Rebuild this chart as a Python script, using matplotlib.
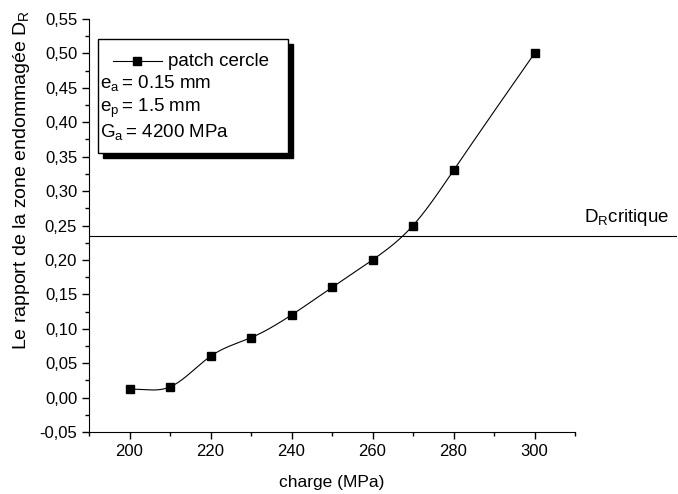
import numpy as np
import matplotlib
matplotlib.use("Agg")
import matplotlib.pyplot as plt
from matplotlib.patches import Rectangle
from matplotlib.lines import Line2D
from matplotlib.ticker import MultipleLocator, FuncFormatter

plt.rcParams['font.family'] = ['Liberation Sans', 'DejaVu Sans']
plt.rcParams['mathtext.fontset'] = 'custom'
plt.rcParams['mathtext.rm'] = 'Liberation Sans'

# donnees
charge = [200, 210, 220, 230, 240, 250, 260, 270, 280, 300]
rapport = [0.012, 0.0155, 0.060, 0.087, 0.120, 0.160, 0.200, 0.250, 0.330, 0.500]
dr_critique = 0.235


def lissage_spline(x, y, xs):
    # spline cubique : pente imposee a gauche (corde), naturelle a droite
    x = np.asarray(x, float)
    y = np.asarray(y, float)
    n = len(x)
    h = np.diff(x)
    delta = np.diff(y) / h
    A = np.zeros((n, n))
    b = np.zeros(n)
    A[0, 0] = 2 * h[0]
    A[0, 1] = h[0]
    b[0] = 3 * (delta[0] - delta[0])
    A[-1, -1] = 1
    for i in range(1, n - 1):
        A[i, i - 1] = h[i - 1]
        A[i, i] = 2 * (h[i - 1] + h[i])
        A[i, i + 1] = h[i]
        b[i] = 3 * (delta[i] - delta[i - 1])
    c = np.linalg.solve(A, b)
    out = np.empty_like(xs)
    for k, xv in enumerate(xs):
        i = int(np.clip(np.searchsorted(x, xv) - 1, 0, n - 2))
        dx = xv - x[i]
        bb = delta[i] - h[i] * (2 * c[i] + c[i + 1]) / 3
        d = (c[i + 1] - c[i]) / (3 * h[i])
        out[k] = y[i] + bb * dx + c[i] * dx ** 2 + d * dx ** 3
    return out


fig = plt.figure(figsize=(6.78, 4.94), dpi=100)
ax = fig.add_axes([89 / 678, 62 / 494, 486 / 678, 413 / 494])

xs = np.linspace(charge[0], charge[-1], 400)
ax.plot(xs, lissage_spline(charge, rapport, xs), color='black', lw=0.8)
ax.plot(charge, rapport, 's', color='black', ms=5.5)

# ligne critique, depasse a droite des axes
ax.plot([190, 335], [dr_critique, dr_critique], color='black', lw=0.8, clip_on=False)
ax.text(312.2, dr_critique + 0.011, r'D$_\mathregular{R}$critique', fontsize=13.5,
        va='bottom', ha='left', clip_on=False)

ax.set_xlim(190, 310)
ax.set_ylim(-0.05, 0.55)
ax.xaxis.set_major_locator(MultipleLocator(20))
ax.xaxis.set_minor_locator(MultipleLocator(10))
ax.yaxis.set_major_locator(MultipleLocator(0.05))
ax.yaxis.set_minor_locator(MultipleLocator(0.025))
ax.yaxis.set_major_formatter(FuncFormatter(lambda v, p: ('%.2f' % v).replace('.', ',')))
ax.spines['top'].set_visible(False)
ax.spines['right'].set_visible(False)
ax.tick_params(which='major', direction='out', length=5, width=1, labelsize=12)
ax.tick_params(which='minor', direction='out', length=3, width=1)

ax.set_xlabel('charge (MPa)', fontsize=12.5, labelpad=12)
ax.set_ylabel(r'Le rapport de la zone endommagée D$_\mathregular{R}$', fontsize=14)
ax.yaxis.set_label_coords(-0.117, 0.61)

# boite de legende avec ombre
bx0, bx1 = 0.0185, 0.4095
by0, by1 = 0.6755, 0.9516
ox, oy = 5 / 486, 5 / 413
ax.add_patch(Rectangle((bx0 + ox, by0 - oy), bx1 - bx0, by1 - by0, transform=ax.transAxes,
                       facecolor='black', edgecolor='black', zorder=5, clip_on=False))
ax.add_patch(Rectangle((bx0, by0), bx1 - bx0, by1 - by0, transform=ax.transAxes,
                       facecolor='white', edgecolor='black', lw=1, zorder=6, clip_on=False))

fy = lambda py: (432 - py) / 413
lignes_y = [61, 84, 108, 133]
ax.add_line(Line2D([(113 - 89) / 486, (162 - 89) / 486], [fy(61), fy(61)], transform=ax.transAxes,
                   color='black', lw=0.8, zorder=7))
ax.add_line(Line2D([(137 - 89) / 486], [fy(61)], transform=ax.transAxes, marker='s',
                   color='black', ms=5.5, zorder=7))
ax.text((168 - 89) / 486, fy(61), 'patch cercle', transform=ax.transAxes, fontsize=13.5,
        va='center', zorder=7)

infos = [r'e$_\mathregular{a}\,$= 0.15 mm', r'e$_\mathregular{p}\,$= 1.5 mm',
         r'G$_\mathregular{a}\,$= 4200 MPa']
for t, py in zip(infos, lignes_y[1:]):
    ax.text((100 - 89) / 486, fy(py), t, transform=ax.transAxes, fontsize=13.5,
            va='center', zorder=7)

fig.savefig('out.png', dpi=100)
